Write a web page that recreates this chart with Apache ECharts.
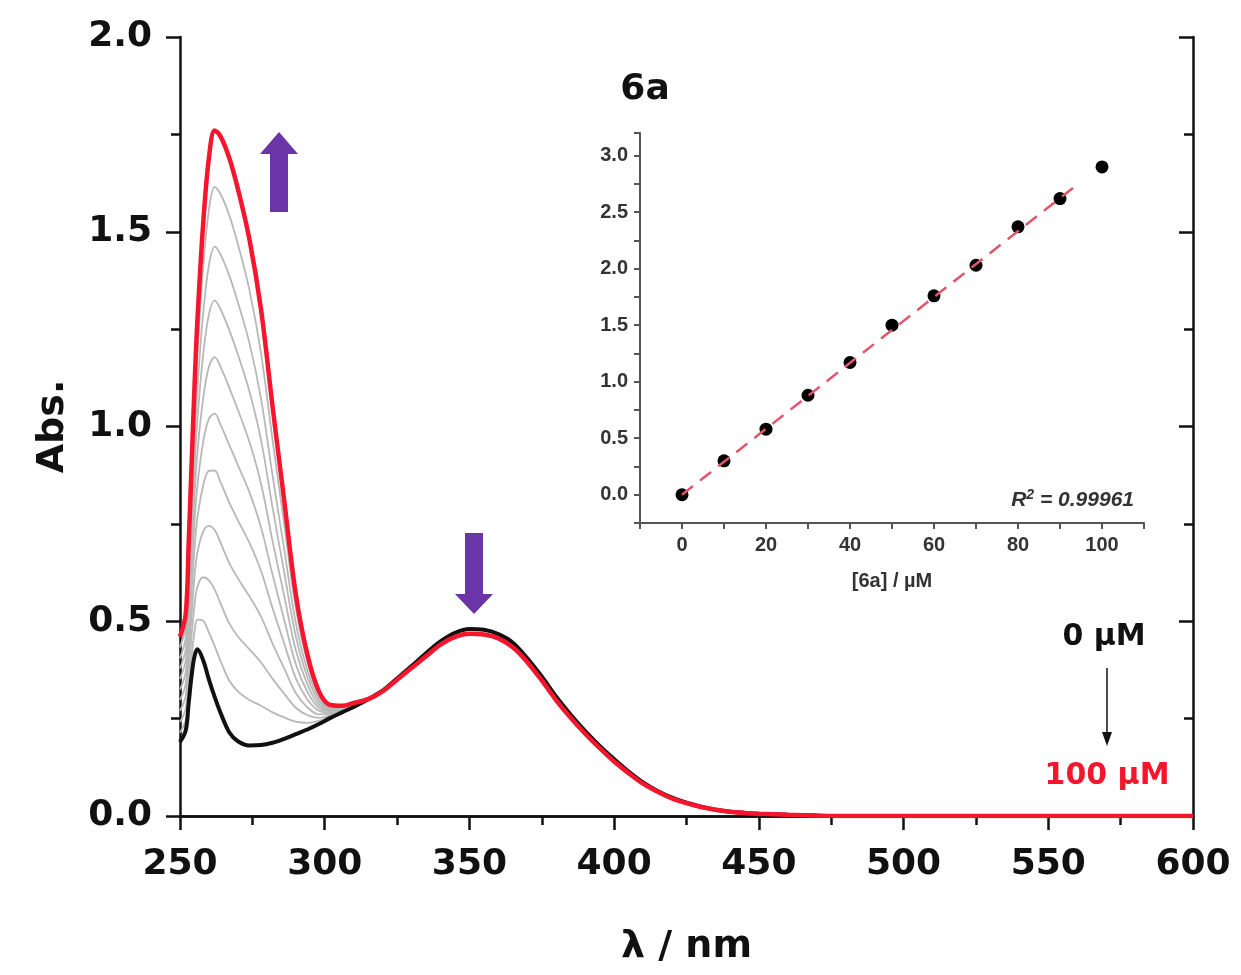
<!DOCTYPE html>
<html>
<head>
<meta charset="utf-8">
<title>6a UV-Vis titration</title>
<script src="https://cdn.jsdelivr.net/npm/echarts@6.0.0/dist/echarts.min.js"></script>
<style>
  html, body { margin: 0; padding: 0; background: #fff; }
  #chart { width: 1241px; height: 975px; }
</style>
</head>
<body>
<div id="chart"></div>
<script>
// Spectra: wavelength grid for the 250-310 nm band (all curves differ here)
var WL_HEAD = [250, 252, 253, 254, 255, 256, 258, 260, 262, 264, 267, 270, 274, 278, 282, 286, 290, 294, 298, 302, 306, 310];
// 310-600 nm band, where the curves all lie on top of each other
var WL_TAIL = [315, 320, 325, 330, 335, 340, 345, 350, 355, 360, 365, 370, 375, 380, 385, 390, 395, 400, 405, 410, 415, 420, 425, 430, 435, 440, 445, 450, 460, 470, 480, 500, 550, 600];

var ABS_0UM = [0.19, 0.22, 0.29, 0.36, 0.41, 0.428, 0.40, 0.35, 0.305, 0.265, 0.215, 0.192, 0.181, 0.182, 0.188, 0.198, 0.21, 0.222, 0.236, 0.252, 0.266, 0.28];
var ABS_10UM = [0.214, 0.247, 0.327, 0.409, 0.472, 0.504, 0.501, 0.471, 0.436, 0.398, 0.348, 0.32, 0.298, 0.283, 0.266, 0.253, 0.242, 0.239, 0.244, 0.255, 0.268, 0.281];
var ABS_20UM = [0.241, 0.277, 0.368, 0.463, 0.541, 0.588, 0.613, 0.605, 0.581, 0.546, 0.495, 0.461, 0.428, 0.394, 0.352, 0.314, 0.278, 0.259, 0.252, 0.258, 0.269, 0.282];
var ABS_30UM = [0.27, 0.309, 0.411, 0.519, 0.614, 0.676, 0.73, 0.745, 0.734, 0.702, 0.65, 0.61, 0.564, 0.512, 0.442, 0.379, 0.316, 0.279, 0.261, 0.262, 0.271, 0.283];
var ABS_40UM = [0.298, 0.34, 0.454, 0.576, 0.686, 0.765, 0.848, 0.886, 0.887, 0.857, 0.805, 0.759, 0.701, 0.629, 0.533, 0.443, 0.354, 0.299, 0.27, 0.265, 0.273, 0.284];
var ABS_50UM = [0.325, 0.37, 0.495, 0.63, 0.755, 0.849, 0.96, 1.02, 1.033, 1.005, 0.953, 0.901, 0.831, 0.741, 0.619, 0.504, 0.39, 0.319, 0.278, 0.269, 0.275, 0.285];
var ABS_60UM = [0.352, 0.40, 0.536, 0.684, 0.824, 0.933, 1.072, 1.154, 1.178, 1.153, 1.10, 1.043, 0.96, 0.853, 0.705, 0.565, 0.426, 0.338, 0.286, 0.272, 0.276, 0.286];
var ABS_70UM = [0.379, 0.43, 0.577, 0.738, 0.893, 1.017, 1.184, 1.288, 1.324, 1.301, 1.248, 1.185, 1.09, 0.965, 0.791, 0.626, 0.462, 0.357, 0.295, 0.275, 0.278, 0.287];
var ABS_80UM = [0.405, 0.459, 0.616, 0.789, 0.959, 1.097, 1.29, 1.415, 1.462, 1.442, 1.388, 1.319, 1.214, 1.071, 0.873, 0.685, 0.496, 0.375, 0.303, 0.278, 0.28, 0.288];
var ABS_90UM = [0.433, 0.49, 0.659, 0.846, 1.031, 1.186, 1.408, 1.556, 1.615, 1.597, 1.543, 1.468, 1.35, 1.188, 0.964, 0.749, 0.534, 0.396, 0.312, 0.282, 0.281, 0.289];
var ABS_100UM = [0.46, 0.52, 0.70, 0.90, 1.10, 1.27, 1.52, 1.69, 1.76, 1.745, 1.69, 1.61, 1.48, 1.30, 1.05, 0.81, 0.57, 0.415, 0.32, 0.285, 0.283, 0.29];

var TAIL_0UM = [0.30, 0.322, 0.353, 0.385, 0.418, 0.448, 0.47, 0.48, 0.478, 0.467, 0.445, 0.405, 0.358, 0.306, 0.26, 0.218, 0.18, 0.146, 0.114, 0.086, 0.064, 0.047, 0.034, 0.024, 0.016, 0.011, 0.008, 0.006, 0.003, 0.001, 0, 0, 0, 0];
var TAIL_100UM = [0.30, 0.32, 0.35, 0.38, 0.41, 0.44, 0.46, 0.468, 0.466, 0.456, 0.433, 0.395, 0.348, 0.297, 0.252, 0.211, 0.174, 0.14, 0.11, 0.083, 0.062, 0.045, 0.033, 0.023, 0.016, 0.011, 0.008, 0.006, 0.003, 0.001, 0, 0, 0, 0];

// Inset: absorbance vs concentration
var CONC = [0, 10, 20, 30, 40, 50, 60, 70, 80, 90, 100];
var ABS_CONC = [0, 0.30, 0.58, 0.88, 1.17, 1.50, 1.76, 2.03, 2.37, 2.62, 2.90];
var FIT_X = [0, 94];
var FIT_Y = [0, 2.74];

var GRAYS = [ABS_10UM, ABS_20UM, ABS_30UM, ABS_40UM, ABS_50UM, ABS_60UM, ABS_70UM, ABS_80UM, ABS_90UM];

function pairs(xs, ys) {
  return xs.map(function (x, i) { return [x, ys[i]]; });
}

var FONT = 'DejaVu Sans';
var INSET_FONT = 'Liberation Sans';
var PURPLE = '#6a35a6';
var RED = '#f5152c';

var dom = document.getElementById('chart');
var myChart = echarts.init(dom, null, { renderer: 'canvas' });

var series = [];
GRAYS.forEach(function (g, i) {
  series.push({
    name: (i + 1) * 10 + ' uM',
    type: 'line',
    xAxisIndex: 0, yAxisIndex: 0,
    data: pairs(WL_HEAD, g).concat(pairs(WL_TAIL, TAIL_0UM)),
    showSymbol: false,
    smooth: 0.35,
    lineStyle: { color: '#b8b8b8', width: 1.8 },
    silent: true
  });
});
series.push({
  name: '0 uM',
  type: 'line',
  xAxisIndex: 0, yAxisIndex: 0,
  data: pairs(WL_HEAD, ABS_0UM).concat(pairs(WL_TAIL, TAIL_0UM)),
  showSymbol: false,
  smooth: 0.35,
  lineStyle: { color: '#111', width: 4 },
  silent: true
});
series.push({
  name: '100 uM',
  type: 'line',
  xAxisIndex: 0, yAxisIndex: 0,
  data: pairs(WL_HEAD, ABS_100UM).concat(pairs(WL_TAIL, TAIL_100UM)),
  showSymbol: false,
  smooth: 0.35,
  lineStyle: { color: RED, width: 4.5 },
  silent: true
});
// inset
series.push({
  name: 'fit',
  type: 'line',
  xAxisIndex: 2, yAxisIndex: 2,
  data: pairs(FIT_X, FIT_Y),
  showSymbol: false,
  lineStyle: { color: '#e2556a', width: 2.5, type: [14, 9] },
  silent: true
});
series.push({
  name: 'abs',
  type: 'scatter',
  xAxisIndex: 2, yAxisIndex: 2,
  data: pairs(CONC, ABS_CONC),
  symbolSize: 13,
  itemStyle: { color: '#000', opacity: 1 },
  silent: true
});

var mainLabel = { fontFamily: FONT, fontWeight: 'bold', fontSize: 36, color: '#111' };
var insetLabel = { fontFamily: INSET_FONT, fontWeight: 'bold', fontSize: 20, color: '#333' };

var option = {
  animation: false,
  backgroundColor: '#fff',
  grid: [
    { left: 180, top: 37, width: 1013, height: 779 },
    { left: 640, top: 133, width: 504, height: 390 }
  ],
  xAxis: [
    {
      type: 'value', gridIndex: 0, position: 'bottom',
      min: 250, max: 600, interval: 50,
      name: 'λ / nm', nameLocation: 'middle', nameGap: 112,
      nameTextStyle: { fontFamily: FONT, fontWeight: 'bold', fontSize: 38, color: '#111' },
      axisLine: { lineStyle: { color: '#111', width: 2.5 } },
      axisTick: { inside: false, length: 14, lineStyle: { color: '#111', width: 2.5 } },
      minorTick: { show: true, splitNumber: 2, length: 9, lineStyle: { color: '#111', width: 2.5 } },
      axisLabel: Object.assign({ margin: 31 }, mainLabel),
      splitLine: { show: false }
    },
    {
      type: 'value', gridIndex: 0, position: 'top',
      min: 250, max: 600, interval: 50,
      axisLine: { lineStyle: { color: '#111', width: 2.5 } },
      axisTick: { inside: true, length: 14, lineStyle: { color: '#111', width: 2.5 } },
      minorTick: { show: true, splitNumber: 2, length: 9, lineStyle: { color: '#111', width: 2.5 } },
      axisLabel: { show: false },
      splitLine: { show: false }
    },
    {
      type: 'value', gridIndex: 1,
      min: -10, max: 110, interval: 10,
      name: '[6a] / µM', nameLocation: 'middle', nameGap: 48,
      nameTextStyle: { fontFamily: INSET_FONT, fontWeight: 'bold', fontSize: 20, color: '#333' },
      axisLine: { onZero: false, lineStyle: { color: '#555', width: 2 } },
      axisTick: { inside: false, length: 6, lineStyle: { color: '#555', width: 2 } },
      axisLabel: Object.assign({
        margin: 12,
        formatter: function (v) { return (v >= 0 && v <= 100 && v % 20 === 0) ? String(v) : ''; }
      }, insetLabel),
      splitLine: { show: false }
    }
  ],
  yAxis: [
    {
      type: 'value', gridIndex: 0, position: 'left',
      min: 0, max: 2, interval: 0.5,
      name: 'Abs.', nameLocation: 'middle', nameGap: 108, nameRotate: 90,
      nameTextStyle: { fontFamily: FONT, fontWeight: 'bold', fontSize: 38, color: '#111' },
      axisLine: { show: true, lineStyle: { color: '#111', width: 2.5 } },
      axisTick: { show: true, inside: false, length: 14, lineStyle: { color: '#111', width: 2.5 } },
      minorTick: { show: true, splitNumber: 2, length: 9, lineStyle: { color: '#111', width: 2.5 } },
      axisLabel: Object.assign({ margin: 28, formatter: function (v) { return v.toFixed(1); } }, mainLabel),
      splitLine: { show: false }
    },
    {
      type: 'value', gridIndex: 0, position: 'right',
      min: 0, max: 2, interval: 0.5,
      axisLine: { show: true, lineStyle: { color: '#111', width: 2.5 } },
      axisTick: { show: true, inside: true, length: 14, lineStyle: { color: '#111', width: 2.5 } },
      minorTick: { show: true, splitNumber: 2, length: 9, lineStyle: { color: '#111', width: 2.5 } },
      axisLabel: { show: false },
      splitLine: { show: false }
    },
    {
      type: 'value', gridIndex: 1,
      min: -0.25, max: 3.2, interval: 0.25,
      axisLine: { show: true, onZero: false, lineStyle: { color: '#555', width: 2 } },
      axisTick: { show: true, inside: false, length: 6, lineStyle: { color: '#555', width: 2 } },
      axisLabel: Object.assign({
        margin: 12,
        formatter: function (v) {
          var h = v * 2;
          return (v >= 0 && Math.abs(h - Math.round(h)) < 1e-6) ? v.toFixed(1) : '';
        }
      }, insetLabel),
      splitLine: { show: false }
    }
  ],
  graphic: [
    // titration direction arrows
    {
      type: 'polygon',
      shape: { points: [[279, 132], [298, 154], [288, 154], [288, 212], [270, 212], [270, 154], [260, 154]] },
      style: { fill: PURPLE }
    },
    {
      type: 'polygon',
      shape: { points: [[465, 533], [483, 533], [483, 594], [493, 594], [474, 614], [455, 594], [465, 594]] },
      style: { fill: PURPLE }
    },
    {
      type: 'text', x: 645, y: 90,
      style: { text: '6a', font: 'bold 36px "DejaVu Sans"', fill: '#111', align: 'center', verticalAlign: 'middle' }
    },
    {
      type: 'text', x: 1104, y: 637,
      style: { text: '0 µM', font: 'bold 30px "DejaVu Sans"', fill: '#111', align: 'center', verticalAlign: 'middle' }
    },
    {
      type: 'text', x: 1107, y: 776,
      style: { text: '100 µM', font: 'bold 30px "DejaVu Sans"', fill: RED, align: 'center', verticalAlign: 'middle' }
    },
    {
      type: 'line',
      shape: { x1: 1107, y1: 668, x2: 1107, y2: 734 },
      style: { stroke: '#111', lineWidth: 1.5 }
    },
    {
      type: 'polygon',
      shape: { points: [[1102, 732], [1112, 732], [1107, 746]] },
      style: { fill: '#111' }
    },
    {
      type: 'text', x: 1134, y: 500,
      style: {
        text: '{r|R}{s|2}{t| = 0.99961}',
        align: 'right', verticalAlign: 'middle',
        rich: {
          r: { fontFamily: INSET_FONT, fontStyle: 'italic', fontWeight: 'bold', fontSize: 21, fill: '#333' },
          s: { fontFamily: INSET_FONT, fontStyle: 'italic', fontWeight: 'bold', fontSize: 14, fill: '#333', verticalAlign: 'top', padding: [0, 0, 10, 0] },
          t: { fontFamily: INSET_FONT, fontStyle: 'italic', fontWeight: 'bold', fontSize: 21, fill: '#333' }
        }
      }
    }
  ],
  series: series
};

if (option && typeof option === 'object') {
  myChart.setOption(option);
}
</script>
</body>
</html>
